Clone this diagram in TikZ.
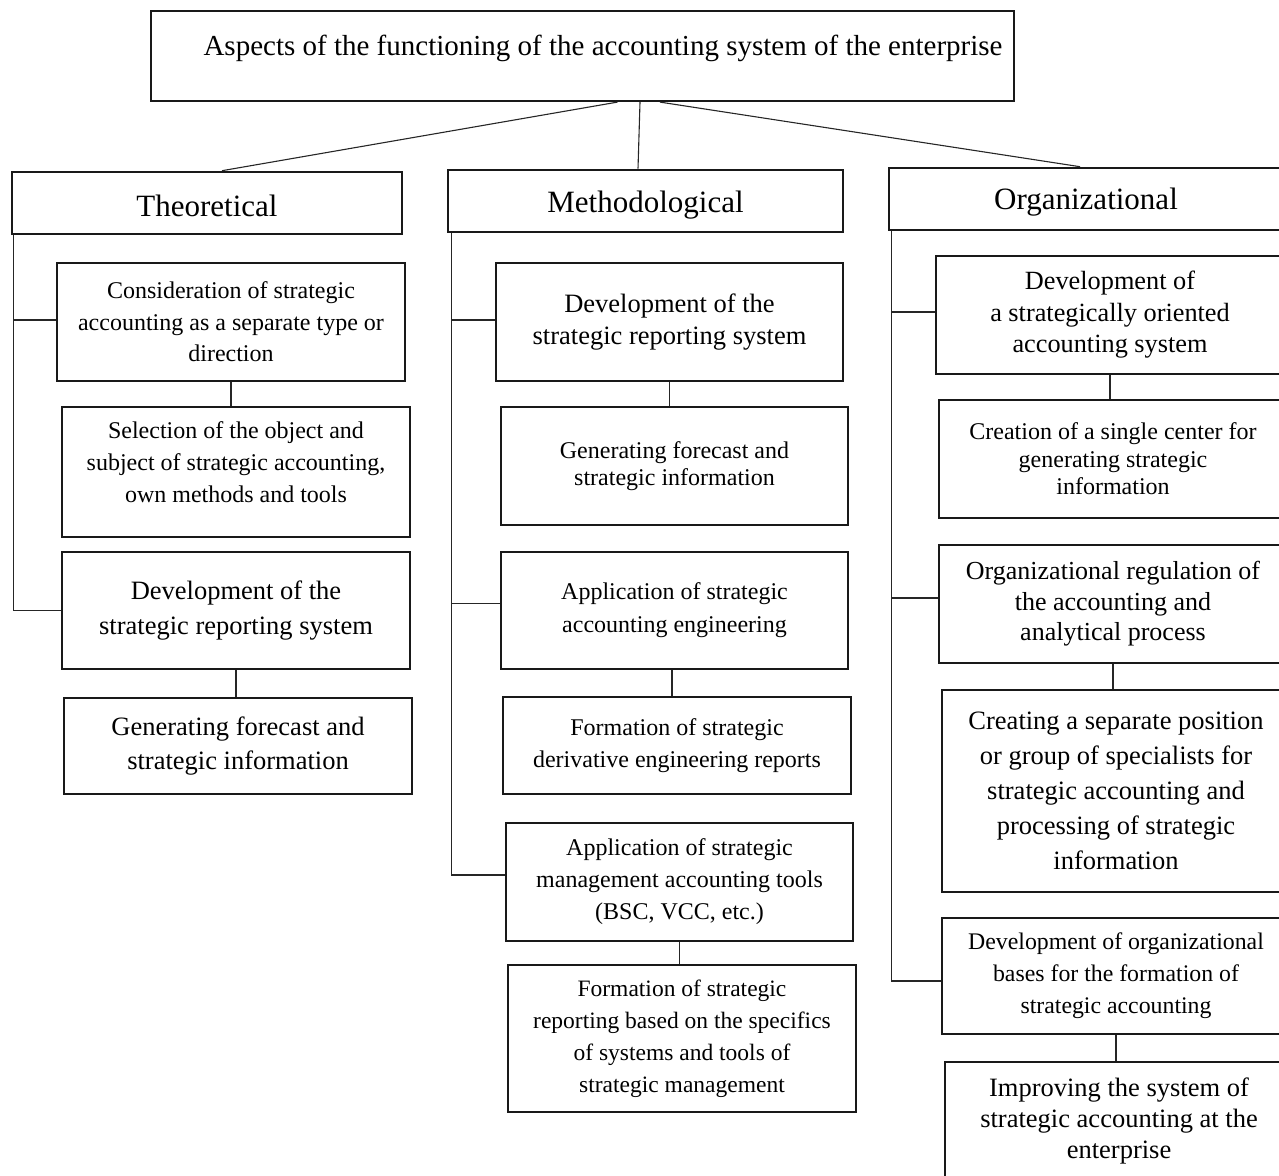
\documentclass[tikz,border=0pt]{standalone}
\usepackage{fontspec}
\setmainfont{Liberation Serif}
\usetikzlibrary{calc}
\newcommand{\fsz}[2]{\fontsize{#1}{#2}\selectfont}
\newcommand{\lowr}[2]{\raisebox{-#1}[\height][\depth]{#2}}
\begin{document}
\begin{tikzpicture}[x=1pt,y=-1pt,
  bx/.style={draw=black!90, line width=2.6pt, inner sep=0pt, align=center, anchor=center},
  ln/.style={draw=black!85, line width=1.1pt},
  sm/.style={font=\fsz{24}{32}},
  md/.style={font=\fsz{26.5}{35}},
  hd/.style={font=\fsz{31}{36}}]
\useasboundingbox (0,0) rectangle (1279,1175);
\clip (0,0) rectangle (1279,1175);
% title
\node[bx, line width=2.2pt, minimum width=863pt, minimum height=90pt] (title) at (582.5,56) {};
\node[font=\fsz{29}{35}, inner sep=0pt] (titletext) at (603,48) {Aspects of the functioning of the accounting system of the enterprise};
% headers
\node[bx, hd, minimum width=390pt, minimum height=62pt] (th) at (207,203) {\lowr{3pt}{Theoretical}};
\node[bx, hd, minimum width=395pt, minimum height=62pt] (mh) at (645.5,201) {\lowr{4pt}{Methodological}};
\node[bx, hd, minimum width=394pt, minimum height=62pt] (oh) at (1086,199) {\lowr{3pt}{Organizational}};
% left column
\node[bx, font=\fsz{24}{31.5}, minimum width=348pt, minimum height=118pt] (t1) at (231,322) {Consideration of strategic\\accounting as a separate type or\\direction};
\node[bx, sm, minimum width=348pt, minimum height=130pt] (t2) at (236,472) {Selection of the object and\\subject of strategic accounting,\\own methods and tools\rule[-20pt]{0pt}{20pt}};
\node[bx, md, minimum width=348pt, minimum height=117pt] (t3) at (236,610.5) {Development of the\\strategic reporting system};
\node[bx, font=\fsz{26.5}{34}, minimum width=348pt, minimum height=96pt] (t4) at (238,746) {Generating forecast and\\strategic information};
% middle column
\node[bx, font=\fsz{26.5}{32}, minimum width=347pt, minimum height=118pt] (m1) at (669.5,322) {Development of the\\strategic reporting system};
\node[bx, font=\fsz{24}{27}, minimum width=347pt, minimum height=118pt] (m2) at (674.5,466) {Generating forecast and\\strategic information};
\node[bx, font=\fsz{24}{33}, minimum width=347pt, minimum height=117pt] (m3) at (674.5,610.5) {Application of strategic\\accounting engineering};
\node[bx, sm, minimum width=348pt, minimum height=97pt] (m4) at (677,745.5) {Formation of strategic\\derivative engineering reports};
\node[bx, sm, minimum width=347pt, minimum height=118pt] (m5) at (679.5,882) {Application of strategic\\management accounting tools\\(BSC, VCC, etc.)};
\node[bx, font=\fsz{23.5}{32}, minimum width=348pt, minimum height=147pt] (m6) at (682,1038.5) {Formation of strategic\\reporting based on the specifics\\of systems and tools of\\strategic management};
% right column
\node[bx, font=\fsz{26.3}{31.5}, minimum width=348pt, minimum height=118pt] (o1) at (1110,315) {Development of\\a strategically oriented\\accounting system};
\node[bx, font=\fsz{24}{27.5}, minimum width=348pt, minimum height=118pt] (o2) at (1113,459) {Creation of a single center for\\generating strategic\\information};
\node[bx, font=\fsz{26}{30.5}, minimum width=348pt, minimum height=118pt] (o3) at (1113,604) {Organizational regulation of\\the accounting and\\analytical process};
\node[bx, md, minimum width=348pt, minimum height=202pt] (o4) at (1116,791) {Creating a separate position\\or group of specialists for\\strategic accounting and\\processing of strategic\\information};
\node[bx, font=\fsz{23.8}{32}, minimum width=348pt, minimum height=116pt] (o5) at (1116,976) {Development of organizational\\bases for the formation of\\strategic accounting};
\node[bx, font=\fsz{26.5}{31}, minimum width=348pt, minimum height=118pt] (o6) at (1119,1121) {Improving the system of\\strategic accounting at the\\enterprise};
% connectors title -> headers
\draw[ln] ([xshift=35pt]title.south) -- ([xshift=15pt]th.north);
\draw[ln] ([xshift=57.5pt]title.south) -- ([xshift=-7.5pt]mh.north);
\draw[ln] ([xshift=77.5pt]title.south) -- ([xshift=-6pt]oh.north);
% left tree
\draw[ln] ([xshift=3pt]th.south west) |- (t3.west);
\draw[ln] ([xshift=3pt]th.south west) |- ([yshift=2pt]t1.west);
\draw[ln] (t1.south) -- (t1.south |- t2.north);
\draw[ln] (t3.south) -- (t3.south |- t4.north);
% middle tree
\draw[ln] ([xshift=5pt]mh.south west) |- ([yshift=7pt]m5.west);
\draw[ln] ([xshift=5pt]mh.south west) |- ([yshift=2pt]m1.west);
\draw[ln] ([xshift=5pt]mh.south west) |- ([yshift=7pt]m3.west);
\draw[ln] (m1.south) -- (m1.south |- m2.north);
\draw[ln] ([xshift=-2.5pt]m3.south) -- ([xshift=-2.5pt]m3.south |- m4.north);
\draw[ln] (m5.south) -- (m5.south |- m6.north);
% right tree
\draw[ln] ([xshift=4pt]oh.south west) |- ([yshift=-5pt]o5.west);
\draw[ln] ([xshift=4pt]oh.south west) |- ([yshift=3pt]o1.west);
\draw[ln] ([xshift=4pt]oh.south west) |- ([yshift=6pt]o3.west);
\draw[ln] (o1.south) -- (o1.south |- o2.north);
\draw[ln] (o3.south) -- (o3.south |- o4.north);
\draw[ln] (o5.south) -- (o5.south |- o6.north);
\end{tikzpicture}
\end{document}
